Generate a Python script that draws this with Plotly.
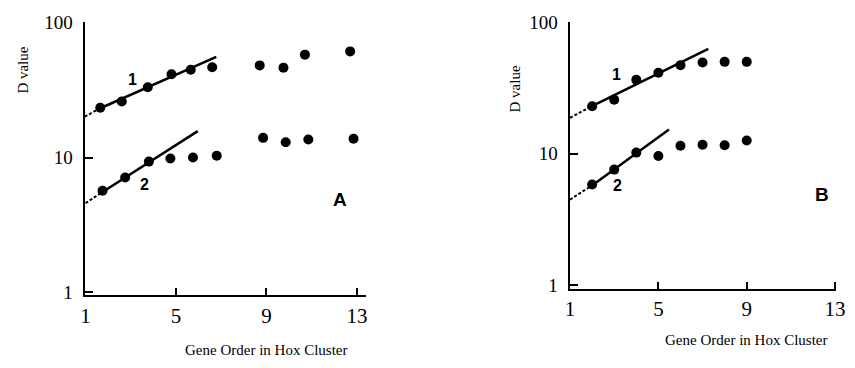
import plotly.graph_objects as go

W, H = 855, 368

# ---------------- data ----------------
# Panel A
a1_x = [1.65, 2.6, 3.75, 4.8, 5.65, 6.6, 8.7, 9.75, 10.7, 12.7]
a1_y = [23.4, 26.0, 33.2, 41.5, 44.7, 46.7, 48.2, 46.4, 57.9, 61.2]
a2_x = [1.75, 2.75, 3.8, 4.75, 5.75, 6.8, 8.85, 9.85, 10.85, 12.85]
a2_y = [5.67, 7.11, 9.33, 9.84, 10.0, 10.3, 14.0, 13.0, 13.6, 13.8]
a1_fit_dash_x, a1_fit_dash_y = [0.96, 1.65], [20.1, 23.2]
a1_fit_x, a1_fit_y = [1.65, 6.78], [23.2, 55.8]
a2_fit_dash_x, a2_fit_dash_y = [1.0, 1.7], [4.59, 5.49]
a2_fit_x, a2_fit_y = [1.7, 5.96], [5.49, 15.7]

# Panel B
b1_x = [2, 3, 4, 5, 6, 7, 8, 9]
b1_y = [23.0, 25.8, 36.6, 41.5, 47.4, 49.7, 50.2, 50.2]
b2_x = [2, 3, 4, 5, 6, 7, 8, 9]
b2_y = [5.83, 7.57, 10.2, 9.62, 11.5, 11.7, 11.6, 12.6]
b1_fit_dash_x, b1_fit_dash_y = [1.0, 1.97], [18.8, 23.0]
b1_fit_x, b1_fit_y = [1.97, 7.26], [23.0, 63.0]
b2_fit_dash_x, b2_fit_dash_y = [1.0, 2.06], [4.47, 5.83]
b2_fit_x, b2_fit_y = [2.06, 5.48], [5.83, 15.3]

x_ticks = [1, 5, 9, 13]
y_ticks = [1, 10, 100]
y_ticktext = ["1", "10", "100"]

x_title = "Gene Order in Hox Cluster"
y_title = "D value"

# ---------------- figure ----------------
fig = go.Figure()

def add_panel(fig, xa, ya, s1x, s1y, s2x, s2y, f1d, f1, f2d, f2):
    for fx, fy in (f1d, f2d):
        fig.add_trace(go.Scatter(x=fx, y=fy, mode="lines", xaxis=xa, yaxis=ya,
                                 line=dict(color="black", width=2, dash="3px,2px"),
                                 hoverinfo="skip"))
    for fx, fy in (f1, f2):
        fig.add_trace(go.Scatter(x=fx, y=fy, mode="lines", xaxis=xa, yaxis=ya,
                                 line=dict(color="black", width=2.5),
                                 hoverinfo="skip"))
    for sx, sy in ((s1x, s1y), (s2x, s2y)):
        fig.add_trace(go.Scatter(x=sx, y=sy, mode="markers", xaxis=xa, yaxis=ya,
                                 marker=dict(color="black", size=10,
                                             line=dict(width=0))))

add_panel(fig, "x", "y", a1_x, a1_y, a2_x, a2_y,
          (a1_fit_dash_x, a1_fit_dash_y), (a1_fit_x, a1_fit_y),
          (a2_fit_dash_x, a2_fit_dash_y), (a2_fit_x, a2_fit_y))
add_panel(fig, "x2", "y2", b1_x, b1_y, b2_x, b2_y,
          (b1_fit_dash_x, b1_fit_dash_y), (b1_fit_x, b1_fit_y),
          (b2_fit_dash_x, b2_fit_dash_y), (b2_fit_x, b2_fit_y))

def px_x(p):
    return p / W

def px_y(p):
    return 1 - p / H

serif = "Liberation Serif, Times New Roman, serif"
sans = "Liberation Sans, Arial, sans-serif"

xaxis_common = dict(showline=True, linecolor="black", linewidth=2,
                    ticks="inside", ticklen=7, tickwidth=2, tickcolor="black",
                    showgrid=False, zeroline=False, tickvals=x_ticks,
                    tickfont=dict(family=serif, size=21, color="black"))
yaxis_common = dict(type="log", showline=True, linecolor="black", linewidth=2,
                    ticks="inside", ticklen=8, tickwidth=2, tickcolor="black",
                    showgrid=False, zeroline=False, tickvals=y_ticks,
                    ticktext=y_ticktext, ticklabelstandoff=6,
                    tickfont=dict(family=serif, size=19, color="black"))

fig.update_layout(
    width=W, height=H, autosize=False,
    margin=dict(l=0, r=0, t=0, b=0),
    paper_bgcolor="white", plot_bgcolor="white",
    showlegend=False,
    xaxis=dict(**xaxis_common, domain=[px_x(81), px_x(367)], range=[0.96, 13.4],
               anchor="y"),
    yaxis=dict(**yaxis_common, domain=[px_y(300), px_y(13)], range=[-0.021, 2.002],
               anchor="x"),
    xaxis2=dict(**xaxis_common, domain=[px_x(574), px_x(845)], range=[0.98, 13.05],
                anchor="y2"),
    yaxis2=dict(**yaxis_common, domain=[px_y(293), px_y(13)], range=[-0.029, 2.002],
                anchor="x2"),
)

def ann(text, x, y, font, angle=0):
    fig.add_annotation(text=text, x=px_x(x), y=px_y(y), xref="paper", yref="paper",
                       showarrow=False, xanchor="center", yanchor="middle",
                       textangle=angle, font=font)

title_font = dict(family=serif, size=15, color="black")
ann(y_title, 18, 63, title_font, -90)
ann(y_title, 518, 83, title_font, -90)
ann(x_title, 265, 358, title_font)
ann(x_title, 753, 347, title_font)

lab_font = dict(family=sans, size=16, color="black")
ann("<b>1</b>", 130, 73, lab_font)
ann("<b>2</b>", 142, 183, lab_font)
ann("<b>1</b>", 622, 68, lab_font)
ann("<b>2</b>", 623, 185, lab_font)

big_font = dict(family=sans, size=19, color="black")
ann("<b>A</b>", 341, 199, big_font)
ann("<b>B</b>", 831, 194, big_font)

fig.write_html("out.html")
